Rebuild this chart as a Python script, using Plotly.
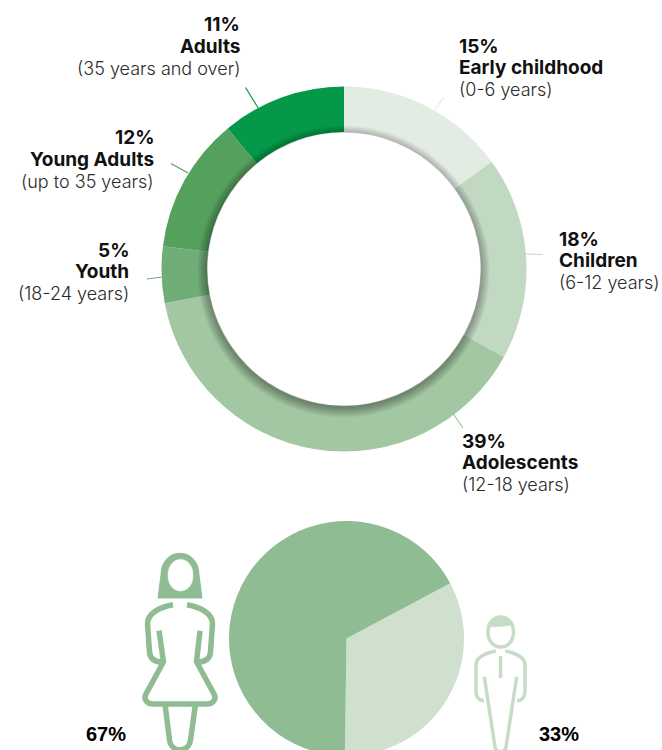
import plotly.graph_objects as go

W, H = 662, 760
FONT = "Inter"
BOLD_FONT = "Liberation Sans"

# ---------- data ----------
age_groups = ["Early childhood", "Children", "Adolescents", "Youth", "Young Adults", "Adults"]
age_ranges = ["(0-6 years)", "(6-12 years)", "(12-18 years)", "(18-24 years)", "(up to 35 years)", "(35 years and over)"]
age_shares = [15, 18, 39, 5, 12, 11]
age_colors = ["#E3ECE3", "#C1D8C1", "#A3C7A3", "#70AC78", "#56A05E", "#059848"]

gender_labels = ["Men", "Women"]
gender_shares = [33, 67]
gender_colors = ["#CFE0CE", "#90BC93"]

# ---------- layout helpers ----------
label_spots = [
    (458.5, "left", (46.5, 67.5, 89)),
    (559, "left", (239, 260.5, 282)),
    (462, "left", (441, 462.5, 484)),
    (129, "right", (250.5, 271.5, 293)),
    (154, "right", (137, 159.5, 181)),
    (240, "right", (24.5, 46.5, 68)),
]
leaders = [
    (444, 97, 435, 110),
    (526, 254, 543, 254.5),
    (452, 412, 463, 428),
    (162.5, 277, 147, 279),
    (188, 173, 171, 163.5),
    (258.5, 108.5, 245.5, 87.5),
]

CX, CY, R_OUT, R_IN = 344, 269, 182.5, 137
PX, PY, PR = 346.5, 638.5, 117.5


def dom_x(c, r):
    return [(c - r) / W, (c + r) / W]


def dom_y(c, r):
    return [(H - c - r) / H, (H - c + r) / H]


fig = go.Figure()
fig.add_trace(go.Scatter(x=[], y=[], showlegend=False, hoverinfo="skip"))
fig.add_trace(go.Pie(
    labels=age_groups, values=age_shares, hole=R_IN / R_OUT, sort=False,
    direction="clockwise", rotation=0, textinfo="none", hoverinfo="label+percent",
    marker=dict(colors=age_colors, line=dict(width=0)),
    domain=dict(x=dom_x(CX, R_OUT), y=dom_y(CY, R_OUT)), showlegend=False,
))
fig.add_trace(go.Pie(
    labels=gender_labels, values=gender_shares, sort=False,
    direction="clockwise", rotation=62, textinfo="none", hoverinfo="label+percent",
    marker=dict(colors=gender_colors, line=dict(width=0)),
    domain=dict(x=dom_x(PX, PR), y=dom_y(PY, PR)), showlegend=False,
))

shapes = []


def circle(cx, cy, r, **kw):
    shapes.append(dict(type="circle", xref="x", yref="y", x0=cx - r, x1=cx + r,
                       y0=cy - r, y1=cy + r, line=dict(width=0), **kw))


# soft shadow of the white disc
for i in range(10):
    circle(CX - 0.5, CY + 2.5, R_IN + 9 - i, fillcolor="rgba(0,0,0,0.035)")
circle(CX, CY, R_IN - 0.5, fillcolor="white")

# leader lines
for (x0, y0, x1, y1), col in zip(leaders, age_colors):
    shapes.append(dict(type="line", xref="x", yref="y", x0=x0, y0=y0, x1=x1, y1=y1,
                       line=dict(color=col, width=1.2)))

WOMAN = "#90BC93"
MAN = "#C6DCC6"


def stroke(path, color, width, fill=None):
    d = dict(type="path", xref="x", yref="y", path=path,
             line=dict(color=color, width=width))
    if fill:
        d["fillcolor"] = fill
    shapes.append(d)


# woman icon
stroke("M158 598 L161 575 C161 546 199 546 199 575 L202 598 Z", WOMAN, 1, WOMAN)
stroke("M168 575.5 C168 554 193 554 193 575.5 C193 596 168 596 168 575.5 Z", "white", 0.5, "white")
stroke("M173 604.7 C160 607 147.5 613 147.5 624 L149.5 652 C150 658 154 661.5 161 662", WOMAN, 5.5)
stroke("M187 604.7 C200 607 212.5 613 212.5 624 L210.5 652 C210 658 206 661.5 199 662", WOMAN, 5.5)
stroke("M159 630.7 L163.5 661.7 L145.5 695 C143.5 700 148 704 152.5 704 L207.5 704 "
       "C212 704 216.5 700 214.5 695 L196.5 661.7 L200 630.7", WOMAN, 5.5)
stroke("M165 704 L169.5 740 C171 753 189 753 190.5 740 L195.5 704", WOMAN, 5.5)

# man icon
stroke("M488 632 C488 612 513.5 612 513.5 632 C513.5 652 488 652 488 632 Z", MAN, 3.5)
stroke("M489 627 C492 614 509 614 512 625 C505 626 498 627 489 627 Z", MAN, 0.5, MAN)
stroke("M495.8 651 C486 653 476 657 476 665 L476 691 C476 697 479 700.5 484 700.7", MAN, 3.5)
stroke("M505.2 651 C515 653 525 657 525 665 L525 691 C525 697 522 700.5 517 700.7", MAN, 3.5)
stroke("M500.5 656 L500.5 678", MAN, 3.5)
stroke("M484.3 676.7 L495 747 C495.5 753 505.5 753 506 747 L516.7 676.7", MAN, 3.5)

fig.update_layout(shapes=shapes)

# labels
for name, rng, share, (x, anchor, ys) in zip(age_groups, age_ranges, age_shares, label_spots):
    for txt, y, bold in ((f"{share}%", ys[0], True), (name, ys[1], True), (rng, ys[2], False)):
        fig.add_annotation(
            x=x, y=y, xref="x", yref="y", text=txt, showarrow=False, xanchor=anchor, yanchor="middle",
            borderpad=0, borderwidth=0,
            font=dict(family=FONT, size=19 if bold else 18, color="#111111" if bold else "#2a2a2a",
                      weight=700 if bold else 300),
        )

for txt, x in ((f"{gender_shares[1]}%", 128), (f"{gender_shares[0]}%", 581)):
    fig.add_annotation(x=x, y=734, xref="x", yref="y", text=txt, showarrow=False, xanchor="right",
                       yanchor="middle", font=dict(family=BOLD_FONT, size=20, color="#000000", weight=700))

fig.update_layout(
    width=W, height=H, margin=dict(l=0, r=0, t=0, b=0),
    paper_bgcolor="white", plot_bgcolor="rgba(0,0,0,0)",
    xaxis=dict(range=[0, W], visible=False, fixedrange=True, domain=[0, 1]),
    yaxis=dict(range=[H, 0], visible=False, fixedrange=True, domain=[0, 1]),
    showlegend=False,
)

fig.write_html(
    "out.html", config=dict(displayModeBar=False),
    post_script="document.body.style.margin='0';document.body.style.overflow='hidden';"
                "document.documentElement.style.overflow='hidden';",
)
